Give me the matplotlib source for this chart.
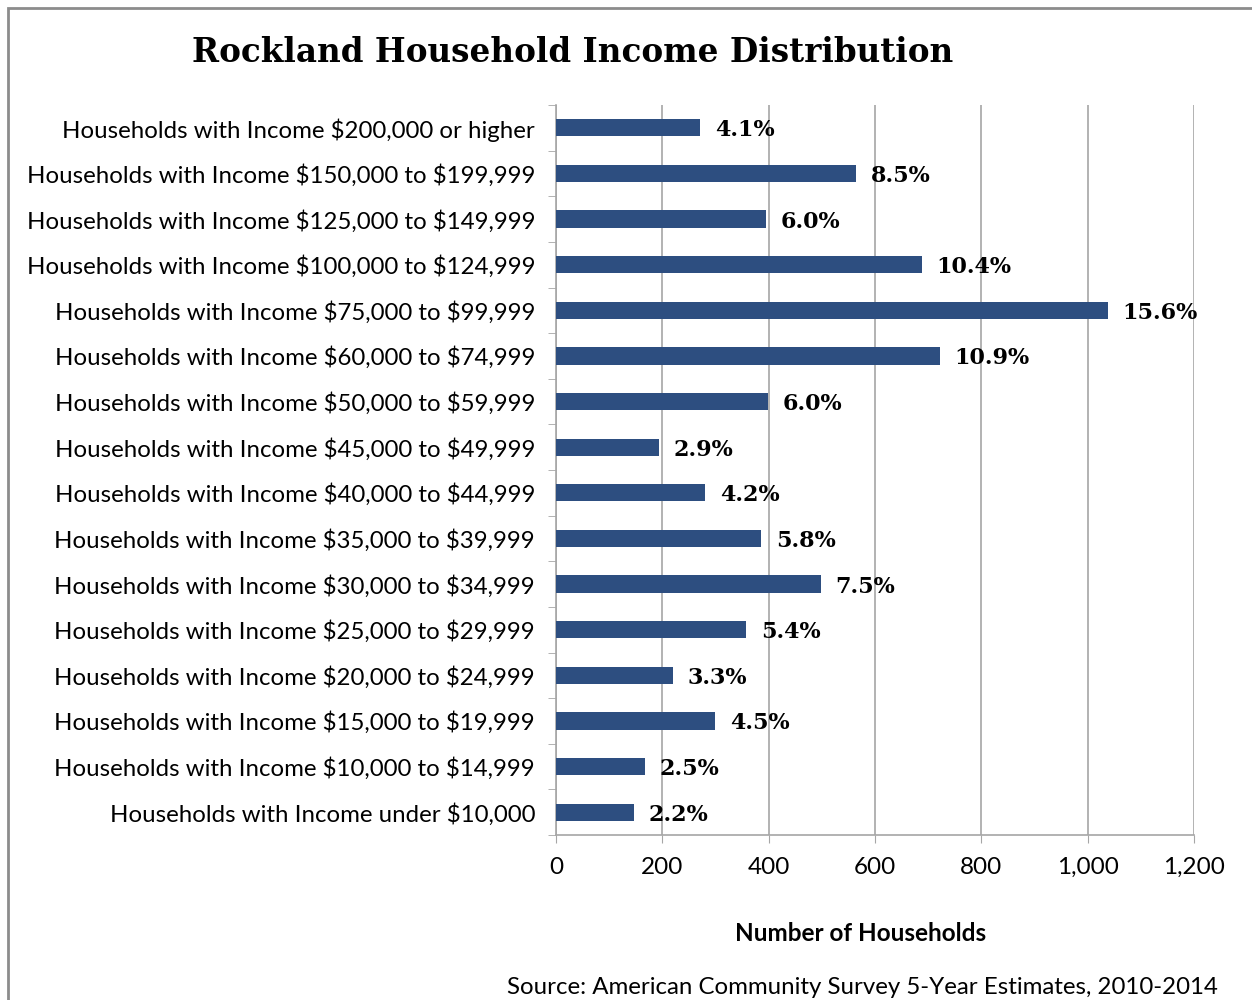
import matplotlib.pyplot as plt
from matplotlib.patches import Rectangle

plt.rcParams["text.parse_math"] = False

categories = [
    "Households with Income under $10,000",
    "Households with Income $10,000 to $14,999",
    "Households with Income $15,000 to $19,999",
    "Households with Income $20,000 to $24,999",
    "Households with Income $25,000 to $29,999",
    "Households with Income $30,000 to $34,999",
    "Households with Income $35,000 to $39,999",
    "Households with Income $40,000 to $44,999",
    "Households with Income $45,000 to $49,999",
    "Households with Income $50,000 to $59,999",
    "Households with Income $60,000 to $74,999",
    "Households with Income $75,000 to $99,999",
    "Households with Income $100,000 to $124,999",
    "Households with Income $125,000 to $149,999",
    "Households with Income $150,000 to $199,999",
    "Households with Income $200,000 or higher",
]
households = [147, 167, 299, 220, 357, 498, 386, 280, 194, 399, 722, 1038, 688, 395, 564, 271]
pct_labels = ["2.2%", "2.5%", "4.5%", "3.3%", "5.4%", "7.5%", "5.8%", "4.2%", "2.9%",
              "6.0%", "10.9%", "15.6%", "10.4%", "6.0%", "8.5%", "4.1%"]
xticks = [0, 200, 400, 600, 800, 1000, 1200]

bar_color = "#2D4E80"
grid_color = "#A6A6A6"

fig = plt.figure(figsize=(12.52, 10), dpi=100)
ax = fig.add_axes([0.444, 0.165, 0.5097, 0.730])

y = range(len(categories))
ax.barh(y, households, height=0.38, color=bar_color, zorder=3)
for i, (v, lab) in enumerate(zip(households, pct_labels)):
    ax.text(v + 28, i, lab, va="center_baseline", ha="left", fontsize=16,
            fontweight="bold", family="DejaVu Serif", zorder=4)

ax.set_xlim(0, 1200)
ax.set_ylim(-0.5, len(categories) - 0.5)
ax.set_xticks(xticks)
ax.set_xticklabels([f"{t:,}" for t in xticks], fontsize=17.5, family="Lato")
ax.set_yticks(list(y))
ax.set_yticklabels(categories, fontsize=17.3, family="Lato")
ax.set_yticks([i - 0.5 for i in range(len(categories) + 1)], minor=True)
ax.tick_params(axis="y", which="major", length=0, pad=15)
ax.tick_params(axis="y", which="minor", length=6, color=grid_color, direction="out")
ax.tick_params(axis="x", length=6, color=grid_color, pad=10)
ax.grid(axis="x", color=grid_color, linewidth=1.2, zorder=0)
for s in ["top", "right"]:
    ax.spines[s].set_visible(False)
for s in ["left", "bottom"]:
    ax.spines[s].set_color(grid_color)
    ax.spines[s].set_linewidth(1.2)

ax.set_xlabel("Number of Households", fontsize=17.5, fontweight="bold",
              family="Lato")
ax.xaxis.set_label_coords(0.477, -0.119)

fig.text(0.457, 0.948, "Rockland Household Income Distribution", ha="center",
         va="center", fontsize=23.5, fontweight="bold", family="DejaVu Serif")
fig.text(0.973, 0.012, "Source: American Community Survey 5-Year Estimates, 2010-2014",
         ha="right", va="center", fontsize=17.3, family="Lato")

# outer frame of the chart
fig.patches.append(Rectangle((0.0065, -0.01), 1.1, 1.002, transform=fig.transFigure,
                             fill=False, edgecolor="#8C8C8C", linewidth=2))

fig.savefig("out.png", dpi=100)
